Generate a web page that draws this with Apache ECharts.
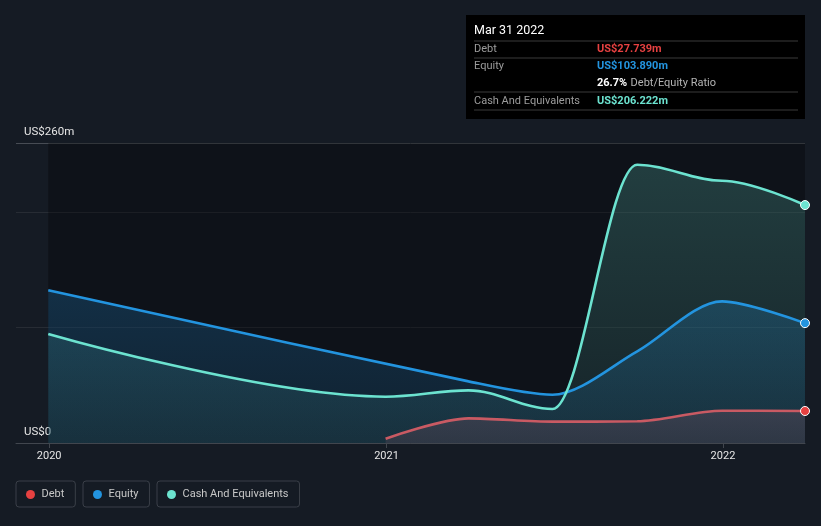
<!DOCTYPE html>
<html>
<head>
<meta charset="utf-8">
<script src="https://cdn.jsdelivr.net/npm/echarts@6/dist/echarts.min.js"></script>
<style>
html,body{margin:0;padding:0;background:#151b24;}
#chart{width:821px;height:526px;}
</style>
</head>
<body>
<div id="chart"></div>
<script>
// ---- data ----
const dates  = ['2019-12-31','2020-12-31','2021-03-31','2021-06-30','2021-09-30','2021-12-31','2022-03-31'];
const debt   = [null, 3.7, 21.3, 18.5, 18.8, 28.0, 27.739];
const equity = [132.3, null, 53.4, 41.8, 79.4, 122.7, 103.890];
const cash   = [94.5, 40.1, 45.6, 29.5, 241.2, 227.3, 206.222];
const yMin = 0, yMax = 260, yStep = 100;
const yLabels = {0: 'US$0', 260: 'US$260m'};
const xMin = '2019-11-26', xMax = '2022-03-31';

const C = {
  debtLine: '#c95a63', debtDot: '#e64141',
  eqLine: '#2394df', cashLine: '#6ce3d0'
};

function toPts(arr, color, withEnd) {
  const out = [];
  arr.forEach((v, i) => {
    if (v === null) return;
    const p = {value: [dates[i], v]};
    if (withEnd && i === arr.length - 1) {
      p.symbol = 'circle';
      p.symbolSize = 9;
      p.itemStyle = {color: color, borderColor: '#ffffff', borderWidth: 1};
    }
    out.push(p);
  });
  return out;
}

function areaSeries(name, arr, top, bottom, sm, mono) {
  return {
    name: name, type: 'line', data: toPts(arr), smooth: sm, smoothMonotone: mono,
    symbol: 'none', showSymbol: false, silent: true, z: 2,
    lineStyle: {width: 0},
    areaStyle: {color: {type: 'linear', x: 0, y: 0, x2: 0, y2: 1,
      colorStops: [{offset: 0, color: top}, {offset: 1, color: bottom}]}}
  };
}
function lineSeries(name, arr, color, dotColor, sm, mono) {
  return {
    name: name, type: 'line', data: toPts(arr, dotColor, true), smooth: sm, smoothMonotone: mono,
    symbol: 'none', showSymbol: true, z: 4, clip: false,
    itemStyle: {color: dotColor},
    lineStyle: {width: 2.6, color: color}
  };
}

const last = dates.length - 1;
function fmtDate(s) {
  const d = new Date(s + 'T00:00:00Z');
  const m = ['Jan','Feb','Mar','Apr','May','Jun','Jul','Aug','Sep','Oct','Nov','Dec'][d.getUTCMonth()];
  return m + ' ' + d.getUTCDate() + ' ' + d.getUTCFullYear();
}
const fmtM = v => 'US$' + v.toFixed(3) + 'm';
const ratio = (debt[last] / equity[last] * 100).toFixed(1) + '%';

const chart = echarts.init(document.getElementById('chart'), null, {renderer: 'canvas'});
const legendBase = {
  top: 481, icon: 'circle', itemWidth: 12, itemHeight: 9, itemGap: 10,
  borderColor: '#3a3f48', borderWidth: 1, borderRadius: 3,
  padding: [8, 11, 7, 10], selectedMode: false,
  textStyle: {color: '#c8c8c8', fontSize: 11, fontFamily: 'Roboto'}
};
const lbl = (t, x, y, fill, font) => ({type: 'text', z: 100, style: {text: t, x: x, y: y, fill: fill, font: font,
  textAlign: 'left', textVerticalAlign: 'middle', align: 'left', verticalAlign: 'middle'}});
const sep = y => ({type: 'line', z: 100, shape: {x1: 474, y1: y, x2: 798, y2: y}, style: {stroke: '#3b3b3b', lineWidth: 1}});

chart.setOption({
  backgroundColor: '#151b24',
  animation: false,
  grid: {left: 16, right: 16, top: 143, bottom: 83, containLabel: false},
  xAxis: {
    type: 'time', min: xMin, max: xMax,
    minInterval: 365 * 864e5, maxInterval: 366 * 864e5,
    axisLine: {lineStyle: {color: '#41464e', width: 1}},
    axisTick: {show: true, length: 5, lineStyle: {color: '#41464e'}},
    axisLabel: {color: '#e6e6e6', fontSize: 11, fontFamily: 'Roboto', margin: 8,
      formatter: '{yyyy}', showMinLabel: false, showMaxLabel: false},
    splitLine: {show: false}
  },
  yAxis: {
    type: 'value', min: yMin, max: yMax, interval: yStep,
    axisLine: {show: false}, axisTick: {show: false},
    axisLabel: {inside: true, margin: 8, color: '#e6e6e6', fontSize: 11.5, fontFamily: 'Roboto',
      verticalAlign: 'bottom', padding: [0, 0, 5, 0],
      formatter: v => yLabels[v] || ''},
    splitLine: {lineStyle: {color: ['#41464e', '#272c34', '#272c34', '#474c54'], width: 1}}
  },
  legend: [
    Object.assign({}, legendBase, {left: 16, data: [{name: 'Debt', itemStyle: {color: C.debtDot}}]}),
    Object.assign({}, legendBase, {left: 83, data: [{name: 'Equity', itemStyle: {color: C.eqLine}}]}),
    Object.assign({}, legendBase, {left: 157, data: [{name: 'Cash And Equivalents', itemStyle: {color: C.cashLine}}]})
  ],
  series: [
    {
      name: '_bg', type: 'line', data: [], z: 1, silent: true,
      markArea: {silent: true, itemStyle: {color: 'rgba(0,0,0,0.3)'},
        data: [[{xAxis: dates[0]}, {xAxis: dates[last]}]]}
    },
    areaSeries('Cash And Equivalents', cash, 'rgba(108,224,207,0.30)', 'rgba(108,224,207,0.12)', 0.35, 'x'),
    areaSeries('Equity', equity, 'rgba(35,148,223,0.32)', 'rgba(35,148,223,0.16)', 0.3, null),
    areaSeries('Debt', debt, 'rgba(74,68,84,0.92)', 'rgba(62,60,74,0.85)', 0.3, null),
    lineSeries('Debt', debt, C.debtLine, C.debtDot, 0.3, null),
    lineSeries('Equity', equity, C.eqLine, C.eqLine, 0.3, null),
    lineSeries('Cash And Equivalents', cash, C.cashLine, C.cashLine, 0.35, 'x')
  ],
  graphic: [
    {type: 'rect', z: 99, shape: {x: 466, y: 15, width: 339, height: 104}, style: {fill: '#000000'}},
    lbl(fmtDate(dates[last]), 474, 31, '#ffffff', '12.5px Roboto'),
    sep(41),
    lbl('Debt', 474, 49, '#9c9c9c', '11px Roboto'),
    lbl(fmtM(debt[last]), 597, 49, '#e64141', 'bold 11px Roboto'),
    sep(58),
    lbl('Equity', 474, 66.5, '#9c9c9c', '11px Roboto'),
    lbl(fmtM(equity[last]), 597, 66.5, '#2394df', 'bold 11px Roboto'),
    {type: 'text', z: 100, style: {text: '{b|' + ratio + '} {g|Debt/Equity Ratio}', x: 597, y: 83.5,
      textVerticalAlign: 'middle', verticalAlign: 'middle',
      rich: {b: {fill: '#ffffff', color: '#ffffff', font: 'bold 11px Roboto'},
             g: {fill: '#b4b4b4', color: '#b4b4b4', font: '11px Roboto'}}}},
    sep(92),
    lbl('Cash And Equivalents', 474, 101, '#9c9c9c', '11px Roboto'),
    lbl(fmtM(cash[last]), 597, 101, '#6ce3d0', 'bold 11px Roboto'),
    sep(110)
  ]
});
</script>
</body>
</html>
